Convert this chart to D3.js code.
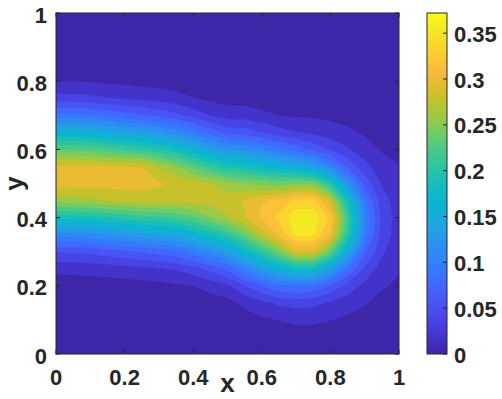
<!DOCTYPE html>
<html>
<head>
<meta charset="utf-8">
<script src="https://cdn.jsdelivr.net/npm/d3@7"></script>
<style>
  body { margin: 0; background: #fff; }
  text { font-family: "Liberation Sans", Arial, sans-serif; font-weight: bold; fill: #262626; }
</style>
</head>
<body>
<div id="chart"></div>
<script>
// grid coordinates of the field
const xGrid = [0, 0.05, 0.1, 0.15, 0.2, 0.25, 0.3, 0.35, 0.4, 0.45, 0.5, 0.55, 0.6, 0.65, 0.7, 0.75, 0.8, 0.85, 0.9, 0.95, 1];
const yGrid = [0, 0.05, 0.1, 0.15, 0.2, 0.25, 0.3, 0.35, 0.4, 0.45, 0.5, 0.55, 0.6, 0.65, 0.7, 0.75, 0.8, 0.85, 0.9, 0.95, 1];

// zRows[j][i] = value at (xGrid[i], yGrid[j])
const zRows = [
  [0.000,0.000,0.000,0.000,0.000,0.000,0.000,0.000,0.000,0.002,0.002,0.003,0.004,0.004,0.005,0.005,0.004,0.004,0.003,0.002,0.002],
  [0.001,0.001,0.001,0.001,0.001,0.001,0.001,0.001,0.001,0.003,0.004,0.006,0.008,0.009,0.010,0.010,0.009,0.008,0.006,0.004,0.003],
  [0.001,0.001,0.001,0.001,0.001,0.002,0.002,0.002,0.003,0.004,0.007,0.011,0.015,0.019,0.022,0.022,0.019,0.015,0.011,0.007,0.005],
  [0.003,0.003,0.003,0.004,0.004,0.005,0.005,0.006,0.007,0.010,0.013,0.023,0.032,0.041,0.044,0.042,0.035,0.027,0.020,0.012,0.010],
  [0.009,0.009,0.010,0.010,0.011,0.012,0.013,0.016,0.019,0.025,0.033,0.055,0.074,0.090,0.096,0.090,0.071,0.049,0.032,0.021,0.015],
  [0.023,0.024,0.025,0.027,0.029,0.032,0.035,0.039,0.048,0.062,0.078,0.113,0.141,0.168,0.188,0.186,0.146,0.093,0.051,0.030,0.021],
  [0.057,0.058,0.060,0.066,0.071,0.076,0.081,0.089,0.104,0.123,0.143,0.180,0.214,0.250,0.298,0.298,0.244,0.157,0.080,0.040,0.025],
  [0.119,0.120,0.123,0.130,0.136,0.143,0.148,0.156,0.172,0.192,0.212,0.246,0.285,0.321,0.357,0.357,0.312,0.211,0.106,0.048,0.028],
  [0.191,0.193,0.196,0.203,0.209,0.216,0.219,0.225,0.239,0.259,0.276,0.296,0.321,0.340,0.367,0.367,0.329,0.224,0.112,0.050,0.029],
  [0.270,0.271,0.274,0.279,0.284,0.288,0.288,0.286,0.287,0.288,0.290,0.299,0.314,0.321,0.340,0.340,0.292,0.191,0.098,0.045,0.028],
  [0.305,0.305,0.305,0.305,0.305,0.304,0.300,0.294,0.287,0.279,0.267,0.260,0.254,0.250,0.256,0.254,0.206,0.132,0.068,0.035,0.025],
  [0.300,0.300,0.300,0.299,0.299,0.297,0.276,0.260,0.239,0.217,0.199,0.195,0.183,0.172,0.160,0.145,0.112,0.072,0.043,0.026,0.019],
  [0.240,0.239,0.236,0.229,0.222,0.216,0.206,0.192,0.172,0.149,0.130,0.126,0.113,0.100,0.086,0.070,0.054,0.039,0.027,0.017,0.014],
  [0.169,0.168,0.165,0.157,0.150,0.143,0.134,0.121,0.104,0.084,0.067,0.065,0.054,0.045,0.038,0.032,0.027,0.022,0.016,0.010,0.009],
  [0.099,0.098,0.095,0.088,0.082,0.076,0.070,0.060,0.048,0.036,0.028,0.028,0.023,0.018,0.016,0.016,0.014,0.012,0.008,0.006,0.005],
  [0.044,0.043,0.042,0.038,0.035,0.032,0.029,0.025,0.019,0.014,0.011,0.011,0.009,0.007,0.008,0.008,0.007,0.006,0.004,0.003,0.003],
  [0.018,0.018,0.017,0.015,0.014,0.012,0.011,0.009,0.007,0.005,0.004,0.004,0.003,0.003,0.004,0.004,0.003,0.003,0.002,0.002,0.002],
  [0.007,0.007,0.006,0.006,0.005,0.005,0.004,0.003,0.003,0.002,0.001,0.002,0.001,0.002,0.002,0.002,0.002,0.001,0.001,0.001,0.001],
  [0.002,0.002,0.002,0.002,0.002,0.002,0.001,0.001,0.001,0.001,0.000,0.001,0.001,0.001,0.001,0.001,0.001,0.001,0.001,0.000,0.000],
  [0.001,0.001,0.001,0.001,0.001,0.001,0.001,0.000,0.000,0.000,0.000,0.000,0.000,0.000,0.000,0.000,0.000,0.000,0.000,0.000,0.000],
  [0.000,0.000,0.000,0.000,0.000,0.000,0.000,0.000,0.000,0.000,0.000,0.000,0.000,0.000,0.000,0.000,0.000,0.000,0.000,0.000,0.000]
];

const axisTicks = [0, 0.2, 0.4, 0.6, 0.8, 1];
const cbTicks = [0, 0.05, 0.1, 0.15, 0.2, 0.25, 0.3, 0.35];
const cMax = 0.372;
const nLevels = 20;

// parula colormap stops
const parulaPos = [0, 0.0635, 0.127, 0.19, 0.254, 0.317, 0.381, 0.444, 0.508, 0.571, 0.635, 0.698, 0.762, 0.825, 0.889, 0.952, 1];
const parulaHex = ["#3e26a8", "#4537d5", "#484df0", "#4563fd", "#327cfc", "#2b91ef", "#20a5e3", "#08b5d0",
  "#19bfb6", "#37c897", "#64cd6f", "#9dc943", "#d1bf27", "#f8ba3d", "#fccf30", "#f5e924", "#f9fb15"];

const width = 502, height = 399;
const margin = { top: 13, right: 103, bottom: 45, left: 56 };
const plotW = 399 - margin.left, plotH = 354 - margin.top;
const fontTick = 22;

const svg = d3
  .select("#chart")
  .append("svg")
  .attr("width", width)
  .attr("height", height);

const x = d3.scaleLinear().domain([0, 1]).range([margin.left, margin.left + plotW]);
const y = d3.scaleLinear().domain([0, 1]).range([margin.top + plotH, margin.top]);

const color = d3
  .scaleLinear()
  .domain(parulaPos.map((p) => p * cMax))
  .range(parulaHex)
  .interpolate(d3.interpolateRgb)
  .clamp(true);

svg
  .append("defs")
  .append("clipPath")
  .attr("id", "clip")
  .append("rect")
  .attr("x", margin.left)
  .attr("y", margin.top)
  .attr("width", plotW)
  .attr("height", plotH);

// filled contours
const nx = xGrid.length, ny = yGrid.length;
const values = zRows.flat();
const levels = d3.range(nLevels).map((i) => (i * cMax) / nLevels);
const contours = d3.contours().size([nx, ny]).thresholds(levels)(values);

const stepX = xGrid[1] - xGrid[0], stepY = yGrid[1] - yGrid[0];
const gridProj = d3.geoTransform({
  point: function (px, py) {
    this.stream.point(x(xGrid[0] + (px - 0.5) * stepX), y(yGrid[0] + (py - 0.5) * stepY));
  },
});
const path = d3.geoPath(gridProj);

svg
  .append("g")
  .attr("clip-path", "url(#clip)")
  .selectAll("path")
  .data(contours)
  .enter()
  .append("path")
  .attr("d", path)
  .attr("fill", (d) => color(d.value))
  .attr("stroke", (d) => color(d.value))
  .attr("stroke-width", 0.4);

// axes box with inward ticks
const axisColor = "#262626";
const frame = svg.append("g");
frame
  .append("rect")
  .attr("x", margin.left)
  .attr("y", margin.top)
  .attr("width", plotW)
  .attr("height", plotH)
  .attr("fill", "none")
  .attr("stroke", axisColor)
  .attr("stroke-width", 1);

const tLen = 4;
axisTicks.forEach((t) => {
  frame.append("line").attr("x1", x(t)).attr("x2", x(t)).attr("y1", y(0)).attr("y2", y(0) - tLen).attr("stroke", axisColor);
  frame.append("line").attr("x1", x(t)).attr("x2", x(t)).attr("y1", y(1)).attr("y2", y(1) + tLen).attr("stroke", axisColor);
  frame.append("line").attr("y1", y(t)).attr("y2", y(t)).attr("x1", x(0)).attr("x2", x(0) + tLen).attr("stroke", axisColor);
  frame.append("line").attr("y1", y(t)).attr("y2", y(t)).attr("x1", x(1)).attr("x2", x(1) - tLen).attr("stroke", axisColor);
});

svg
  .append("g")
  .selectAll("text")
  .data(axisTicks)
  .enter()
  .append("text")
  .attr("x", (d) => x(d))
  .attr("y", y(0) + 31)
  .attr("text-anchor", "middle")
  .attr("font-size", fontTick)
  .text((d) => d3.format("~g")(d));

svg
  .append("g")
  .selectAll("text")
  .data(axisTicks)
  .enter()
  .append("text")
  .attr("x", x(0) - 9)
  .attr("y", (d) => y(d) + 9.5)
  .attr("text-anchor", "end")
  .attr("font-size", fontTick)
  .text((d) => d3.format("~g")(d));

svg
  .append("text")
  .attr("x", (x(0) + x(1)) / 2)
  .attr("y", 392)
  .attr("text-anchor", "middle")
  .attr("font-size", 26)
  .text("x");

svg
  .append("text")
  .attr("transform", "translate(23," + (y(0) + y(1)) / 2 + ") rotate(-90)")
  .attr("text-anchor", "middle")
  .attr("font-size", 26)
  .text("y");

// colorbar
const cbX = 427, cbW = 20;
const cbY = d3.scaleLinear().domain([0, cMax]).range([margin.top + plotH, margin.top]);

const grad = svg
  .select("defs")
  .append("linearGradient")
  .attr("id", "parula")
  .attr("x1", 0).attr("y1", 1).attr("x2", 0).attr("y2", 0);
grad
  .selectAll("stop")
  .data(parulaPos)
  .enter()
  .append("stop")
  .attr("offset", (d) => d)
  .attr("stop-color", (d, i) => parulaHex[i]);

svg
  .append("rect")
  .attr("x", cbX)
  .attr("y", cbY(cMax))
  .attr("width", cbW)
  .attr("height", cbY(0) - cbY(cMax))
  .attr("fill", "url(#parula)")
  .attr("stroke", axisColor)
  .attr("stroke-width", 1);

const cb = svg.append("g");
cb.selectAll("line")
  .data(cbTicks)
  .enter()
  .append("line")
  .attr("x1", cbX + cbW - tLen)
  .attr("x2", cbX + cbW)
  .attr("y1", (d) => cbY(d))
  .attr("y2", (d) => cbY(d))
  .attr("stroke", axisColor);

cb.selectAll("text")
  .data(cbTicks)
  .enter()
  .append("text")
  .attr("x", cbX + cbW + 7)
  .attr("y", (d) => cbY(d) + 8.5)
  .attr("font-size", fontTick)
  .text((d) => d3.format("~g")(d));
</script>
</body>
</html>
